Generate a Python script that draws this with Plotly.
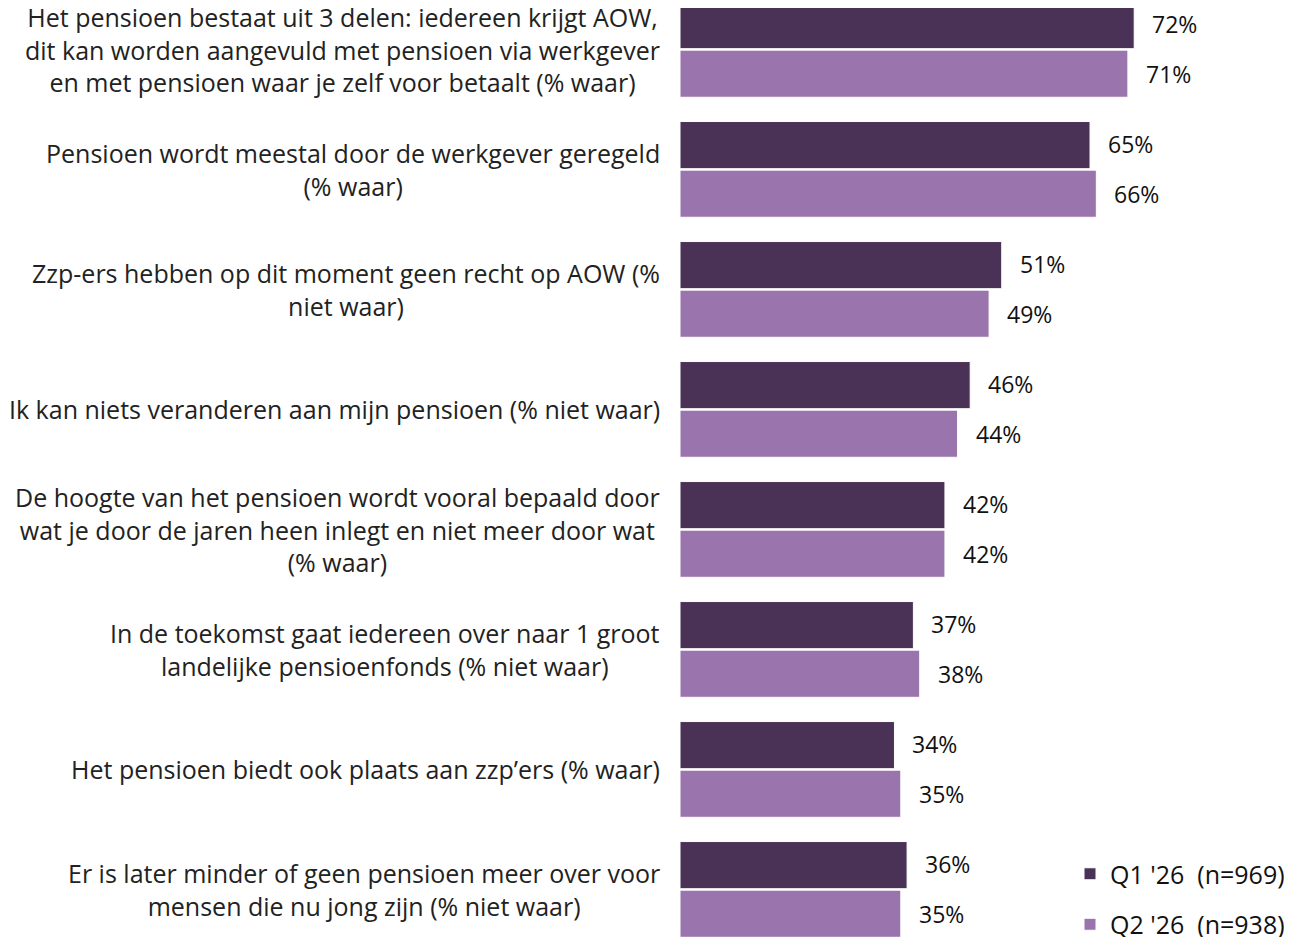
import plotly.graph_objects as go

categories = [
    "Het pensioen bestaat uit 3 delen: iedereen krijgt AOW,<br>dit kan worden aangevuld met pensioen via werkgever<br>en met pensioen waar je zelf voor betaalt (% waar)",
    "Pensioen wordt meestal door de werkgever geregeld<br>(% waar)",
    "Zzp-ers hebben op dit moment geen recht op AOW (%<br>niet waar)",
    "Ik kan niets veranderen aan mijn pensioen (% niet waar)",
    "De hoogte van het pensioen wordt vooral bepaald door<br>wat je door de jaren heen inlegt en niet meer door wat<br>(% waar)",
    "In de toekomst gaat iedereen over naar 1 groot<br>landelijke pensioenfonds (% niet waar)",
    "Het pensioen biedt ook plaats aan zzp’ers (% waar)",
    "Er is later minder of geen pensioen meer over voor<br>mensen die nu jong zijn (% niet waar)",
]
q1_values = [72, 65, 51, 46, 42, 37, 34, 36]
q2_values = [71, 66, 49, 44, 42, 38, 35, 35]
series_names = ["Q1 '26  (n=969)", "Q2 '26  (n=938)"]
colors = ["#4A3256", "#9A74AD"]

FONT = "Open Sans"
FS_LABEL = 25
FS_VALUE = 23

fig = go.Figure()
for name, vals, col, grp in [(series_names[0], q1_values, colors[0], "a"),
                              (series_names[1], q2_values, colors[1], "b")]:
    fig.add_trace(go.Bar(
        name=name, y=categories, x=vals, orientation="h",
        marker=dict(color=col, line=dict(color="white", width=1)),
        legendgroup=grp, hoverinfo="x+name",
    ))

annotations = []
for i, cat in enumerate(categories):
    for vals, ys in [(q1_values, 25), (q2_values, -25)]:
        annotations.append(dict(
            x=vals[i], y=cat, xref="x", yref="y", text=f"{vals[i]}%",
            showarrow=False, xanchor="left", yanchor="middle",
            xshift=16, yshift=ys, font=dict(family=FONT, size=FS_VALUE, color="#111111"),
        ))
    annotations.append(dict(
        x=0, y=cat, xref="paper", yref="y", text=cat, showarrow=False,
        xanchor="right", yanchor="middle", align="center", xshift=-18,
        font=dict(family=FONT, size=FS_LABEL, color="#222222"),
    ))

n = len(categories)
fig.update_layout(
    width=1315, height=937,
    margin=dict(l=672, r=33, t=0, b=0, autoexpand=False),
    paper_bgcolor="white", plot_bgcolor="white",
    barmode="group", bargap=0.19, bargroupgap=0.03,
    font=dict(family=FONT, size=FS_LABEL, color="#111111"),
    xaxis=dict(range=[0, 96.7], visible=False, fixedrange=True),
    yaxis=dict(range=[n - 1 + 0.463, -0.345], showticklabels=False,
               showgrid=False, zeroline=False, showline=False, ticks=""),
    annotations=annotations,
    legend=dict(x=1.0, xanchor="right", y=0.1003, yanchor="top",
                traceorder="grouped", tracegroupgap=15,
                font=dict(family=FONT, size=FS_LABEL, color="#111111"),
                bgcolor="rgba(0,0,0,0)"),
    showlegend=True,
)

fig.write_html("out.html")
